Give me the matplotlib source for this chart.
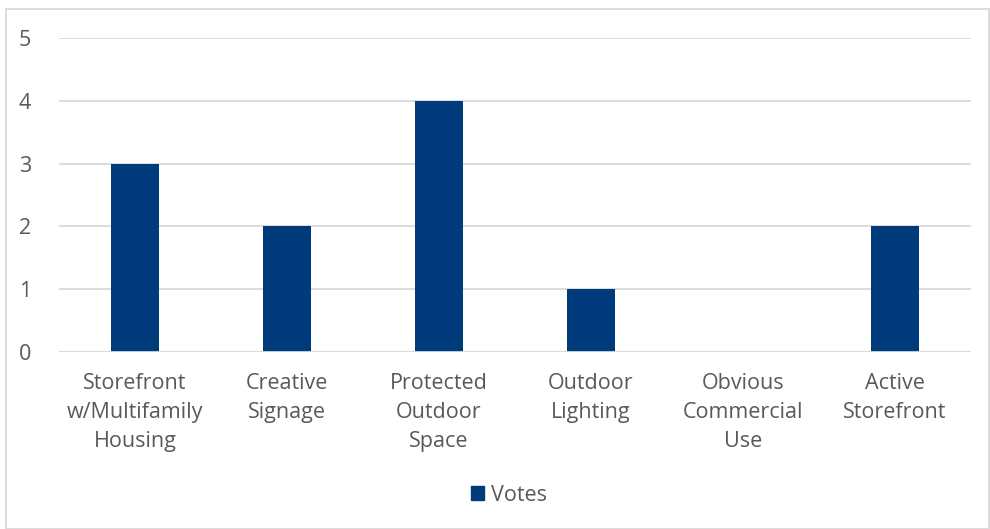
import matplotlib.pyplot as plt
from matplotlib.patches import Rectangle, Patch

categories = ["Storefront\nw/Multifamily\nHousing", "Creative\nSignage",
              "Protected\nOutdoor\nSpace", "Outdoor\nLighting",
              "Obvious\nCommercial\nUse", "Active\nStorefront"]
votes = [3, 2, 4, 1, 0, 2]
series_name = "Votes"

bar_color = "#003b7b"
text_color = "#595959"
grid_color = "#d9d9d9"

plt.rcParams['font.family'] = ['Open Sans', 'DejaVu Sans']

fig = plt.figure(figsize=(9.9, 5.29), dpi=100)
ax = fig.add_axes([59 / 990, 1 - 352 / 529, 912 / 990, 314 / 529])

x = range(len(categories))
ax.bar(x, votes, width=0.316, color=bar_color, zorder=3)

ax.set_xlim(-0.5, len(categories) - 0.5)
ax.set_ylim(0, 5)
ax.set_yticks(range(6))
ax.set_xticks(list(x))
ax.set_xticklabels(categories, linespacing=1.5)
ax.tick_params(axis='both', length=0, colors=text_color, labelsize=15.5)
ax.tick_params(axis='y', pad=20)
ax.tick_params(axis='x', pad=15)
ax.grid(axis='y', color=grid_color, linewidth=1.3, zorder=0)
for s in ax.spines.values():
    s.set_visible(False)
ax.axhline(0, color=grid_color, linewidth=1.3, zorder=4)

# chart border
fig.patches.append(Rectangle((6 / 990, 0.0), 983 / 990, 1 - 9 / 529,
                             transform=fig.transFigure, fill=False,
                             edgecolor=grid_color, linewidth=1.3))

fig.legend(handles=[Patch(color=bar_color, label=series_name)],
           loc='center', bbox_to_anchor=(509 / 990, 1 - 495 / 529),
           frameon=False, fontsize=15.5, labelcolor=text_color,
           handlelength=0.6, handleheight=0.6, handletextpad=0.3)

fig.savefig("out.png", dpi=100)
